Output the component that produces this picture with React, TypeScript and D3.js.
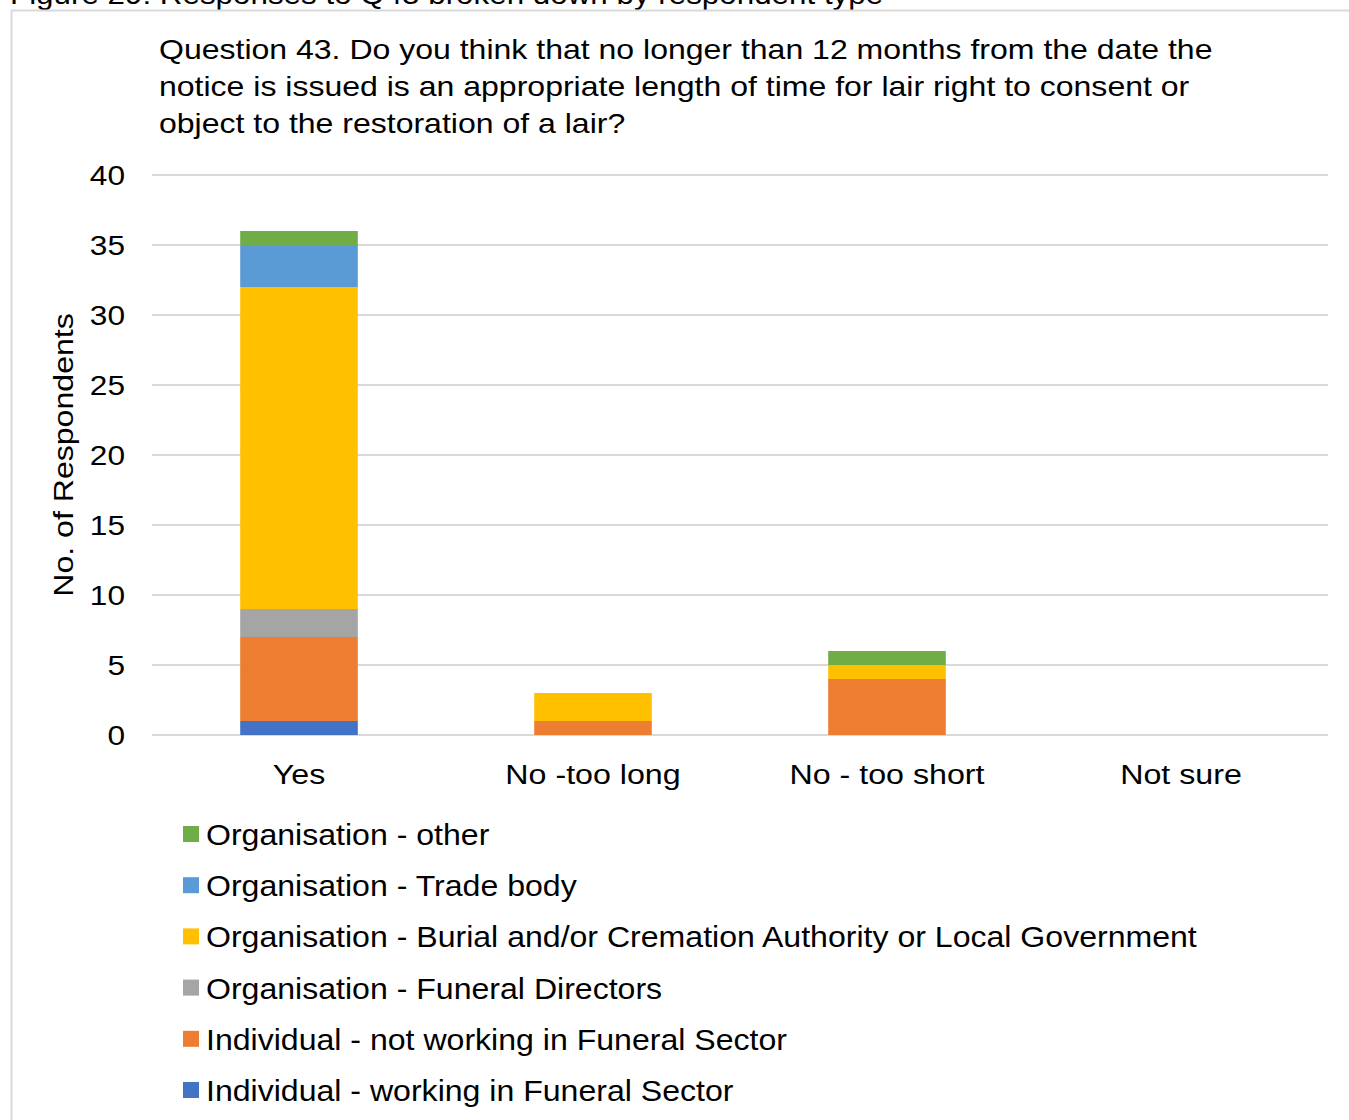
import React from "react";
import * as d3 from "d3";

const categories = ["Yes", "No -too long", "No - too short", "Not sure"];
const seriesNames = [
  "Individual - working in Funeral Sector",
  "Individual - not working in Funeral Sector",
  "Organisation - Funeral Directors",
  "Organisation - Burial and/or Cremation Authority or Local Government",
  "Organisation - Trade body",
  "Organisation - other",
];
const seriesColors = ["#4472C4", "#ED7D31", "#A5A5A5", "#FFC000", "#5B9BD5", "#70AD47"];
const indWorking = [1, 0, 0, 0];
const indNotWorking = [6, 1, 4, 0];
const funeralDirectors = [2, 0, 0, 0];
const burialAuthority = [23, 2, 1, 0];
const tradeBody = [3, 0, 0, 0];
const orgOther = [1, 0, 1, 0];
const yTicks = [0, 5, 10, 15, 20, 25, 30, 35, 40];
const titleLines = [
  "Question 43. Do you think that no longer than 12 months from the date the",
  "notice is issued is an appropriate length of time for lair right to consent or",
  "object to the restoration of a lair?",
];
const caption = "Figure 29: Responses to Q43 broken down by respondent type";
const yAxisTitle = "No. of Respondents";

const W = 1349;
const H = 1120;
const FONT = "'Liberation Sans', Arial, sans-serif";

function SText({ x, y, sx, anchor = "start", size, children, rotate = 0 }: any) {
  return (
    <text
      transform={`translate(${x},${y}) rotate(${rotate}) scale(${sx},1)`}
      textAnchor={anchor}
      fontSize={size}
      fill="#000"
    >
      {children}
    </text>
  );
}

export default function App() {
  const seriesValues = [indWorking, indNotWorking, funeralDirectors, burialAuthority, tradeBody, orgOther];
  const rows = categories.map((c, i) => {
    const r: any = { cat: c };
    seriesNames.forEach((s, j) => (r[s] = seriesValues[j][i]));
    return r;
  });
  const stacked = d3.stack<any>().keys(seriesNames)(rows);

  const x = d3.scaleBand().domain(categories).range([152, 1328]).paddingInner(0.6).paddingOuter(0.3);
  const y = d3.scaleLinear().domain([0, 40]).range([735, 175]);

  const legendOrder = seriesNames.map((_, i) => i).reverse();

  return (
    <svg width={W} height={H} style={{ position: "absolute", left: 0, top: 0, background: "#fff" }} fontFamily={FONT}>
      <rect x={0} y={0} width={W} height={H} fill="#fff" />
      <SText x={10} y={4} sx={1.12} size={28}>{caption}</SText>
      <line x1={11} y1={10.5} x2={W} y2={10.5} stroke="#d9d9d9" strokeWidth={2} />
      <line x1={11.5} y1={10} x2={11.5} y2={H} stroke="#d9d9d9" strokeWidth={2} />

      {titleLines.map((t, i) => (
        <SText key={i} x={159} y={59 + i * 37} sx={1.124} size={28.5}>{t}</SText>
      ))}

      {yTicks.map((t) => (
        <g key={t}>
          <line x1={152} x2={1328} y1={y(t)} y2={y(t)} stroke="#d9d9d9" strokeWidth={2} />
          <SText x={125} y={y(t) + 10} sx={1.13} anchor="end" size={28}>{t}</SText>
        </g>
      ))}

      <SText x={73} y={y(20)} sx={1.146} rotate={-90} anchor="middle" size={28}>{yAxisTitle}</SText>

      {stacked.map((s, si) => (
        <g key={s.key} fill={seriesColors[si]}>
          {s.map((d, ci) =>
            d[1] - d[0] > 0 ? (
              <rect key={ci} x={x(categories[ci])!} width={x.bandwidth()} y={y(d[1])} height={y(d[0]) - y(d[1])} />
            ) : null
          )}
        </g>
      ))}

      {categories.map((c) => (
        <SText key={c} x={x(c)! + x.bandwidth() / 2} y={784} sx={1.15} anchor="middle" size={28}>{c}</SText>
      ))}

      {legendOrder.map((si, k) => (
        <g key={si}>
          <rect x={183} y={826 + k * 51.2} width={16} height={16} fill={seriesColors[si]} />
          <SText x={206} y={845 + k * 51.2} sx={1.106} size={29}>{seriesNames[si]}</SText>
        </g>
      ))}
    </svg>
  );
}
